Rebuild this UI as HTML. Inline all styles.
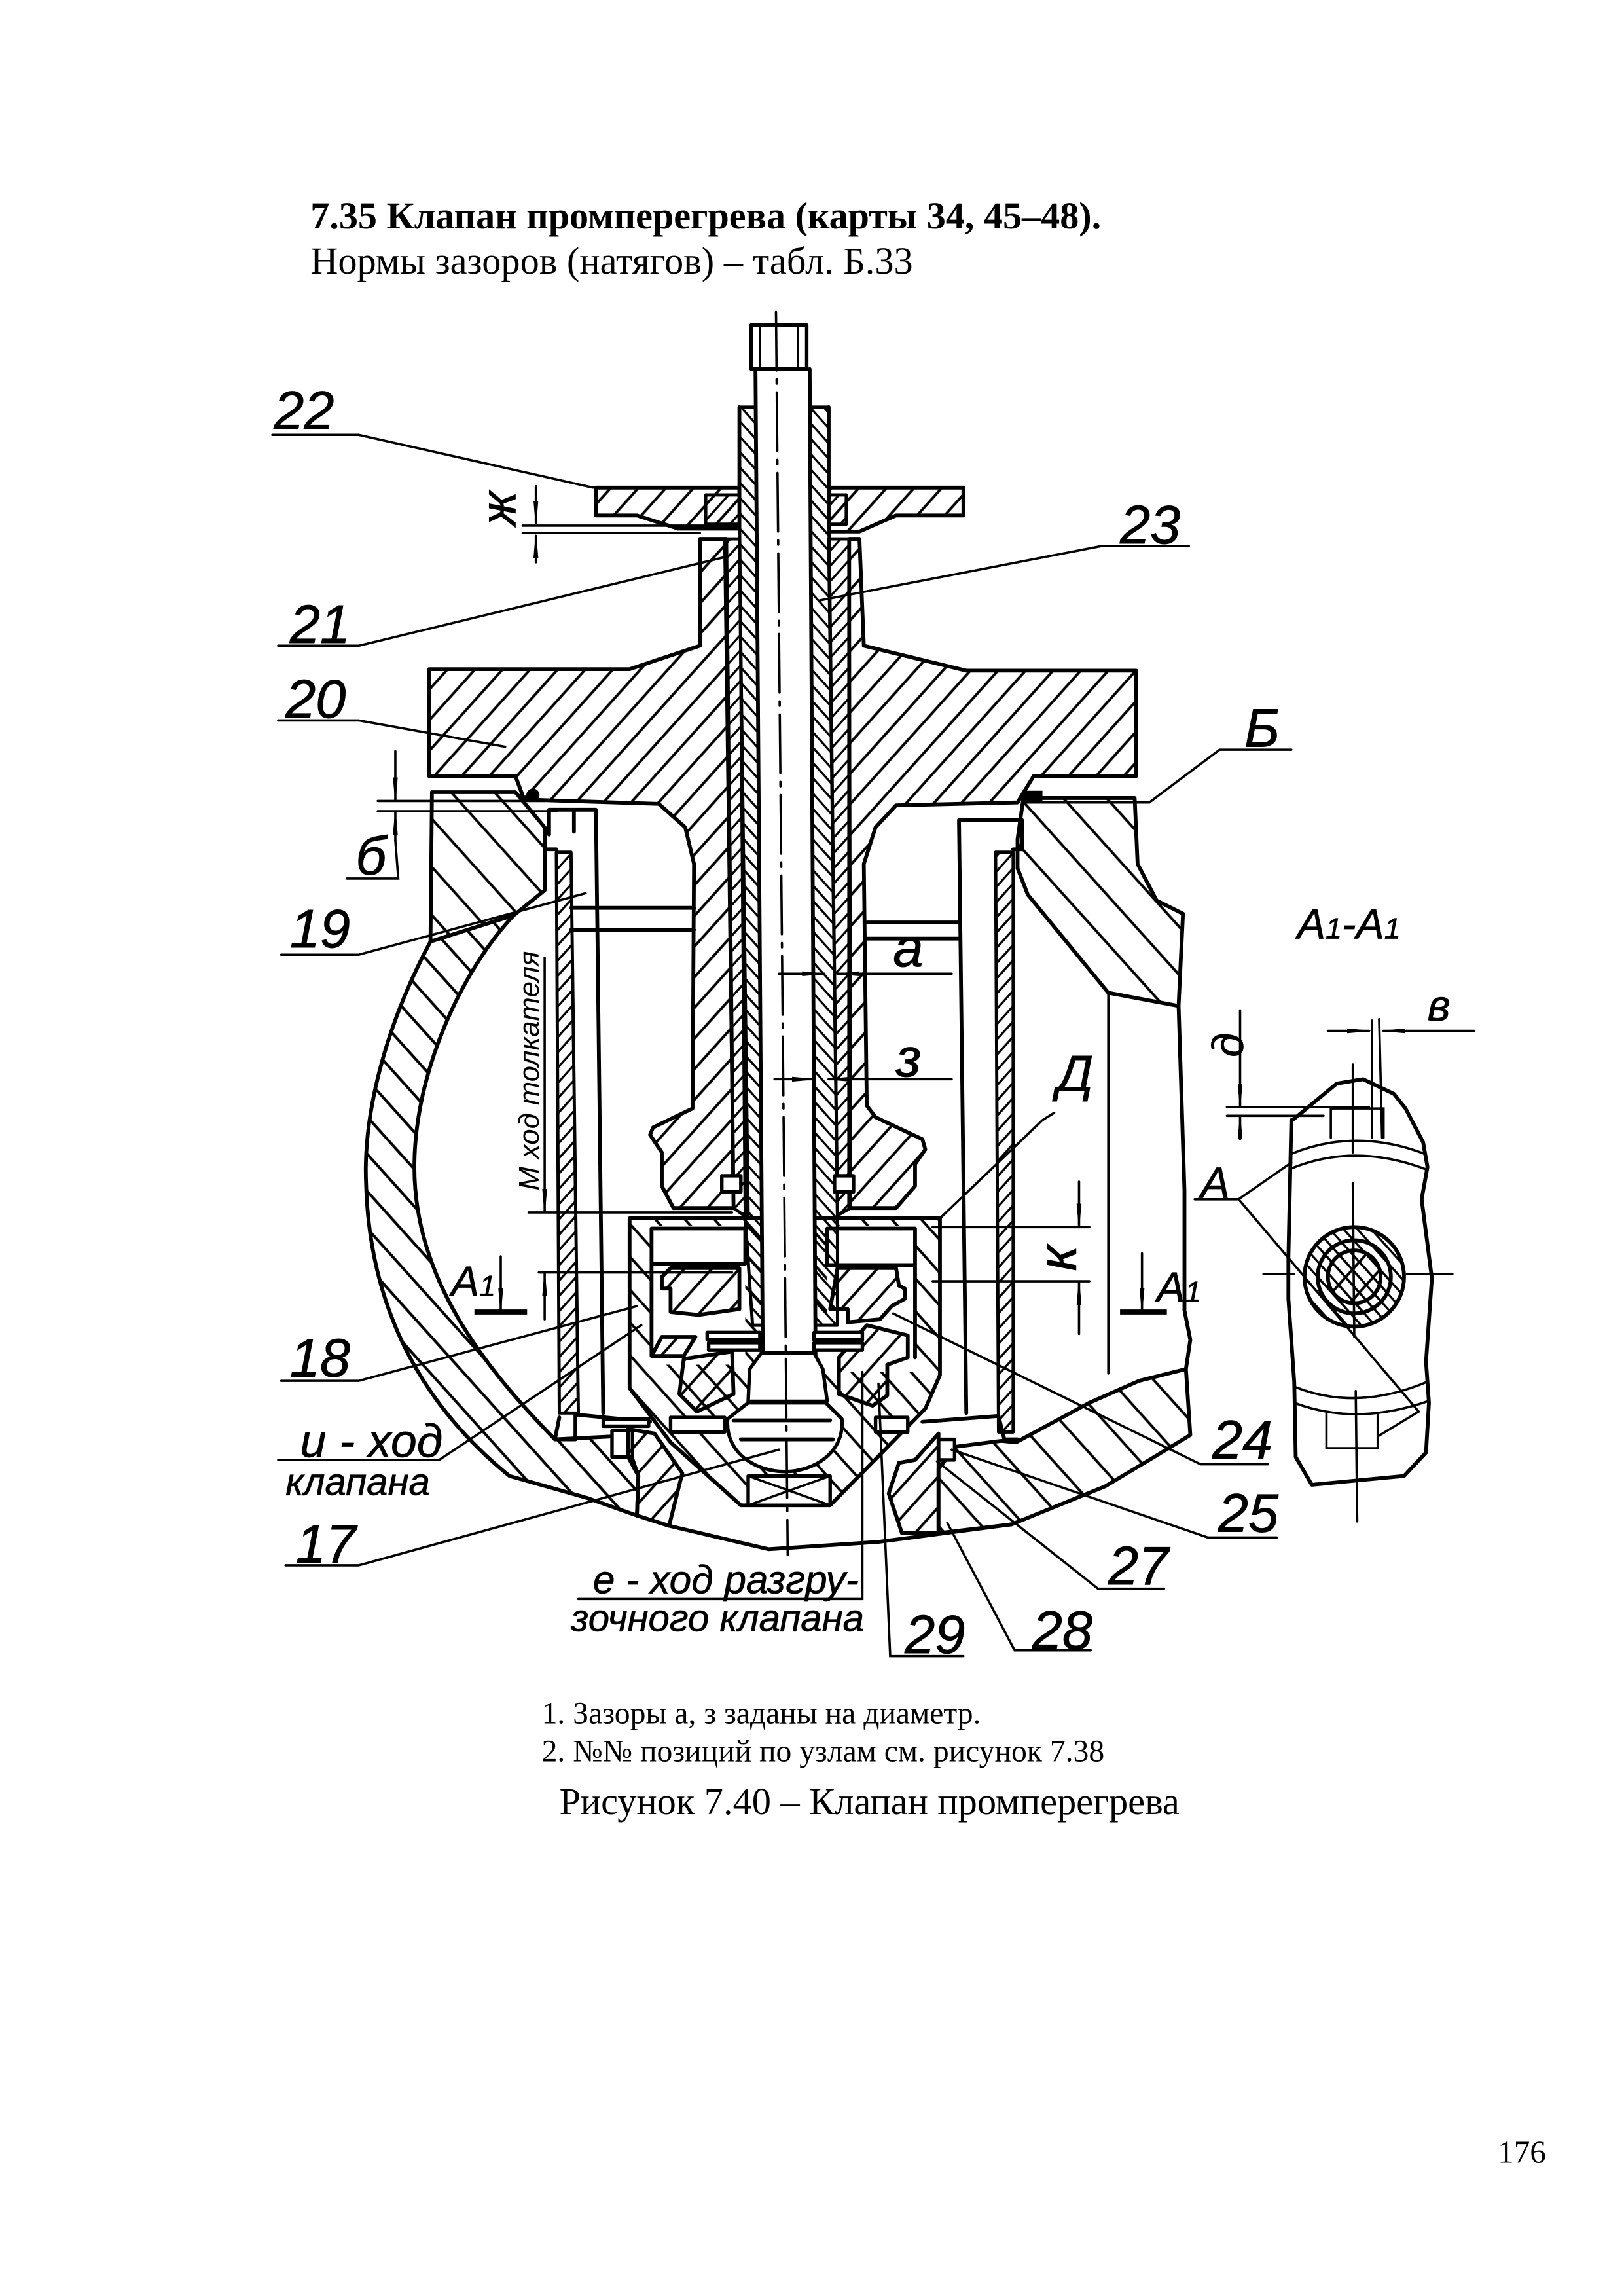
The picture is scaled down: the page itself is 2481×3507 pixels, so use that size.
<!DOCTYPE html>
<html><head><meta charset="utf-8"><style>
html,body{margin:0;padding:0;background:#fff}
svg{display:block}
text{font-family:"Liberation Sans",sans-serif;font-style:italic;fill:#000}
.s{font-family:"Liberation Serif",serif;font-style:normal}
.n{font-size:37px;stroke:#000;stroke-width:.4}
.l{stroke:#000;stroke-width:.3}
.h{fill:none;stroke:#000;stroke-width:2.6;stroke-linejoin:round;stroke-linecap:round}
.m{fill:none;stroke:#000;stroke-width:1.6;stroke-linecap:round}
.w{fill:#fff;stroke:#000;stroke-width:2.4;stroke-linejoin:round}
.a{fill:url(#a);stroke:#000;stroke-width:2.6;stroke-linejoin:round}
.b{fill:url(#b);stroke:#000;stroke-width:2.6;stroke-linejoin:round}
.c{fill:url(#c);stroke:#000;stroke-width:2.6;stroke-linejoin:round}
.d{fill:url(#d);stroke:#000;stroke-width:2.6;stroke-linejoin:round}
.f{fill:url(#f);stroke:#000;stroke-width:2.2;stroke-linejoin:round}
.g{fill:url(#g);stroke:#000;stroke-width:2.2;stroke-linejoin:round}
</style></head><body>
<svg xmlns="http://www.w3.org/2000/svg" width="2481" height="3507" viewBox="0 0 1109.2 1568">
<defs>
<pattern id="a" width="14" height="14" patternUnits="userSpaceOnUse" patternTransform="rotate(42)"><line x1="1" y1="0" x2="1" y2="14" stroke="#000" stroke-width="1.8"/></pattern>
<pattern id="b" width="15" height="15" patternUnits="userSpaceOnUse" patternTransform="rotate(-42)"><line x1="1" y1="0" x2="1" y2="15" stroke="#000" stroke-width="1.8"/></pattern>
<pattern id="d" width="17" height="17" patternUnits="userSpaceOnUse" patternTransform="rotate(-42)"><line x1="1" y1="0" x2="1" y2="17" stroke="#000" stroke-width="1.9"/></pattern>
<pattern id="c" width="22" height="22" patternUnits="userSpaceOnUse" patternTransform="rotate(-42)"><line x1="1" y1="0" x2="1" y2="22" stroke="#000" stroke-width="1.8"/></pattern>
<pattern id="f" width="7" height="7" patternUnits="userSpaceOnUse" patternTransform="rotate(42)"><line x1="1" y1="0" x2="1" y2="7" stroke="#000" stroke-width="1.5"/></pattern>
<pattern id="g" width="7" height="7" patternUnits="userSpaceOnUse" patternTransform="rotate(-42)"><line x1="1" y1="0" x2="1" y2="7" stroke="#000" stroke-width="1.5"/></pattern>
<marker id="ar" markerWidth="16" markerHeight="6" refX="15" refY="3" orient="auto" markerUnits="userSpaceOnUse"><path d="M0,1.6L16,3L0,4.4Z" fill="#000" stroke="#000" stroke-width=".5"/></marker>
</defs>

<!-- page text -->
<text class="s" x="212" y="156" font-size="26" font-weight="bold">7.35 Клапан промперегрева (карты 34, 45–48).</text>
<text class="s" x="212" y="187" font-size="26.1">Нормы зазоров (натягов) – табл. Б.33</text>
<text class="s" x="370" y="1177" font-size="21.3">1. Зазоры а, з заданы на диаметр.</text>
<text class="s" x="370" y="1203" font-size="21.3">2. №№ позиций по узлам см. рисунок 7.38</text>
<text class="s" x="382" y="1239" font-size="26.1">Рисунок 7.40 – Клапан промперегрева</text>
<text class="s" x="1023" y="1477" font-size="22">176</text>

<!-- casing -->
<g transform="translate(0,3)">
<path class="c" d="M295,538H352L372,562V605L351,622L294,640Z"/>
<path class="d" d="M294,640C262,700 248,760 250,805C252,880 280,950 348,1005L401,1020L435,1032L436,1005L429,985L418,978L379,980C330,930 283,870 283,794C283,730 315,660 351,622Z"/>
<path class="c" d="M699,542H775L777,587L790,612L808,621L805,684L757,675L702,608L695,590V570Z"/>
<path class="c" d="M641,1000L653,985L684,981L694,982L744,955L778,940L810,932L813,977L790,991L755,1012L691,1038L641,1044Z"/>
<path class="h" d="M805,684L809,810V855L809,892L813,912L810,932"/>
<path class="m" d="M757,675V935"/>
<path class="h" d="M435,1032L457,1039L525,1055L600,1050L691,1038"/>
</g>

<!-- cover -->
<path class="a" d="M293,457H430L478,441L478,368H496L501,825H460L452,810V787L444,775L446,770L473,757L474,590L468,565L450,549L358,546L352,530H293Z"/>
<path class="a" d="M776,458H660L590,441L587,368H580V825H612L625,810V795L632,785L630,778L598,763L592,755L590,590L598,565L612,550L695,548L706,530H776Z"/>
<!-- flange -->
<path class="a" d="M407,333H505V361H463L435,352H407Z"/>
<path class="a" d="M566,333H658V352H612L587,363H566Z"/>
<path class="f" d="M482,338H505V358H482Z"/>
<path class="f" d="M566,338H578V358H566Z"/>
<!-- ribs -->
<path class="h" d="M390,620H474M390,635H474M592,630H655M592,641H655"/>

<!-- pusher cylinders -->
<path class="f" d="M380,582H390L395,965H382Z"/>
<path class="f" d="M680,582H692L692,978H682Z"/>
<path class="h" d="M372,565V580H380M375,570V553H407L412,965M392,568V553"/>
<path class="h" d="M692,580H698V560H655L660,965"/>
<g transform="translate(0,3)">
<path class="h" d="M382,965L379,980H393V963L444,968M630,968L682,964L686,980H695"/>
<path class="w" d="M412,966H443V971H412Z"/>
<path class="w" d="M418,974H432V992H418Z"/>
<path class="w" d="M641,980H652V994H641Z"/>
</g>

<!-- cup -->
<g transform="translate(1,2)">
<path class="b" d="M429,830H641V937L631,960L566,1026H505L457,983L429,946Z"/>
<path d="M444,835H508V930H444Z" fill="#fff"/>
<path d="M564,835H624V935H564Z" fill="#fff"/>
<path class="h" d="M444,837H508V861H444ZM444,861V924M564,837H624V862H564ZM624,862V925"/>
<path class="a" d="M457,864H504V892L476,896L457,894V878H451V870Z"/>
<path class="a" d="M571,864H611L613,876L617,878V885L608,890L600,899L578,901V892L566,892Z"/>
<path class="a" d="M451,911H474L466,924H444Z"/>
<path class="a" d="M466,926L499,921L500,950L475,962L463,950Z"/>
<path class="a" d="M591,903L619,910V925L605,930V951L595,958L572,950L572,925Z"/>
</g>

<!-- stem sleeves -->
<path class="f" d="M495,368H505L511,832L501,825Z"/>
<path class="f" d="M566,368H580L581,825L572,830Z"/>
<path class="g" d="M505,278H516L521,905H514L509,832L505,340Z"/>
<path class="g" d="M553,278H566V340L572,830V905H557Z"/>
<!-- stem -->
<path d="M516,252L521,925H557L553,252Z" fill="#fff"/>
<path class="h" d="M516,252L521,925M553,252L557,925"/>
<rect x="513" y="222" width="38" height="30" class="w"/>
<path class="m" d="M519,222V252M545,222V252"/>
<path class="h" d="M505,278V340M566,278V340"/>

<g transform="translate(1,2)">
<path class="w" d="M482,908H518V913H482Z"/><path class="w" d="M483,915H518V920H483Z"/>
<path class="w" d="M555,908H588V913H555Z"/><path class="w" d="M555,915H588V920H555Z"/>
<path class="w" d="M519,922H555L561,933L564,955H510L511,933Z"/>
<path class="w" d="M496,967L510,956H563L574,967C576,990 555,1003 535,1003C515,1003 494,990 496,967Z"/>
<path class="h" d="M500,968H566M505,981H568"/>
<path class="w" d="M457,966H494V976H457Z"/>
<path class="w" d="M597,966H619V976H597Z"/>
<path class="w" d="M510,1006H566V1026H510Z"/>
<path class="m" d="M510,1006L566,1026M566,1006L510,1026"/>
</g>
<!-- seat crescents -->
<g transform="translate(0,3)">
<path class="a" d="M429,973L447,976L466,1003L457,1039L435,1032L436,1005L429,992Z"/>
<path class="a" d="M625,994L641,976V1044H616L607,1017L614,996Z"/>
</g>

<!-- gaskets -->
<circle cx="364" cy="543" r="4.5" fill="#000"/>
<rect x="698" y="540" width="14" height="7" fill="#000"/>
<rect x="493" y="803" width="13" height="11" class="w"/>
<rect x="570" y="803" width="13" height="11" class="w"/>

<!-- center line -->
<path class="m" d="M530,213L538,1062" stroke-dasharray="40 6 3 6"/>

<!-- leaders -->
<path class="m" d="M186,297H245L405,333"/>
<path class="m" d="M752,373H812M752,373L560,410"/>
<path class="m" d="M190,441H245L497,380"/>
<path class="m" d="M190,492H245L345,510"/>
<path class="m" d="M882,512H833L785,548H700"/>
<path class="m" d="M237,600H272L270,574M258,547H372M258,554H380"/>
<path class="m" d="M192,652H245L400,610"/>
<path class="m" d="M192,943H245L435,892"/>
<path class="m" d="M190,997H300L438,905"/>
<path class="m" d="M195,1069H245L532,990"/>
<path class="m" d="M866,1000H820L610,897"/>
<path class="m" d="M872,1050H825L650,990"/>
<path class="m" d="M795,1085H750L640,998"/>
<path class="m" d="M745,1127H693L647,1040"/>
<path class="m" d="M658,1131H608L600,945"/>
<path class="m" d="M395,1092H589V937"/>
<path class="m" d="M712,765L641,833M712,765L720,760"/>
<!-- dimensions -->
<path class="m" d="M357,359H505M357,364H478"/>
<path class="m" d="M366,332V357" marker-end="url(#ar)"/>
<path class="m" d="M366,384V366" marker-end="url(#ar)"/>
<path class="m" d="M270,513V546" marker-end="url(#ar)"/>
<path class="m" d="M270,574V555" marker-end="url(#ar)"/>
<path class="m" d="M532,665H563" marker-end="url(#ar)"/>
<path class="m" d="M650,665H572" marker-end="url(#ar)"/>
<path class="m" d="M529,737H556" marker-end="url(#ar)"/>
<path class="m" d="M650,737H566" marker-end="url(#ar)"/>
<path class="m" d="M361,828H500M368,869H500M637,838H744M637,875H744"/>
<path class="m" d="M737,807V837" marker-end="url(#ar)"/>
<path class="m" d="M737,911V876" marker-end="url(#ar)"/>
<path class="m" d="M372,654V827" marker-end="url(#ar)"/>
<path class="m" d="M372,901V870" marker-end="url(#ar)"/>
<path d="M324,896H360M765,896H797" stroke="#000" stroke-width="3.5"/>
<path class="m" d="M342,858V895" marker-end="url(#ar)"/>
<path class="m" d="M780,856V895" marker-end="url(#ar)"/>

<!-- section detail -->
<g transform="translate(4,4)">
<path class="h" d="M878,761L876,855L876,883L880,940L881,991L892,1010L955,1004L970,988L972,954L970,926L974,869L967,815L971,793L968,776L956,753L948,743L927,733L909,736L880,760Z"/>
<path class="m" d="M878,784Q922,766 969,784M878,794Q922,776 971,795M880,943Q922,960 970,940M880,954Q922,970 971,953"/>
<path class="m" d="M905,773V753H941V773M933,693V773M938,692L940,773M902,961V985H937V961M937,977L965,960"/>
<circle cx="921" cy="868" r="34" fill="url(#g)" stroke="#000" stroke-width="2.6"/>
<circle cx="921" cy="868" r="25" fill="url(#g)" stroke="#000" stroke-width="2.6"/>
<circle cx="921" cy="868" r="18" fill="url(#a)" stroke="#000" stroke-width="2.6"/>
<path class="m" d="M920,723V783M920,804L921,909M922,946L923,1035M859,866H880M957,866H988"/>
<path class="m" d="M812,815H842L878,790M842,815L965,960"/>
<path class="m" d="M903,700H931" marker-end="url(#ar)"/>
<path class="m" d="M1003,700H941" marker-end="url(#ar)"/>
<path class="m" d="M834,752H931M834,758H900"/>
<path class="m" d="M843,686V751" marker-end="url(#ar)"/>
<path class="m" d="M843,774V759" marker-end="url(#ar)"/>
</g>

<!-- labels -->
<text class="n" x="187" y="293">22</text>
<text class="n" x="765" y="371">23</text>
<text class="n" x="198" y="439">21</text>
<text class="n" x="195" y="490">20</text>
<text class="n" x="850" y="510">Б</text>
<text class="n" x="243" y="597">б</text>
<text class="n" x="198" y="647">19</text>
<text class="n" x="198" y="940">18</text>
<text class="l" x="205" y="995" font-size="32">и - ход</text>
<text class="l" x="195" y="1021" font-size="26">клапана</text>
<text class="n" x="202" y="1067">17</text>
<text class="n" x="828" y="996">24</text>
<text class="n" x="832" y="1046">25</text>
<text class="n" x="757" y="1082">27</text>
<text class="n" x="705" y="1126">28</text>
<text class="n" x="618" y="1129">29</text>
<text class="l" x="405" y="1088" font-size="27">е - ход разгру-</text>
<text class="l" x="390" y="1114" font-size="26">зочного клапана</text>
<text class="n" x="610" y="660">а</text>
<text class="n" x="612" y="735">з</text>
<text class="n" x="722" y="745" style="font-size:35px">Д</text>
<text class="n" transform="translate(735,868) rotate(-90)">к</text>
<text class="l" transform="translate(352,359) rotate(-90)" font-size="34">ж</text>
<text transform="translate(368,813) rotate(-90)" font-size="19.5">М ход толкателя</text>
<text class="l" x="308" y="885" font-size="29">А<tspan font-size="20">1</tspan></text>
<text class="l" x="790" y="889" font-size="29">А<tspan font-size="20">1</tspan></text>
<text class="l" x="886" y="641" font-size="29">А<tspan font-size="20">1</tspan>-А<tspan font-size="20">1</tspan></text>
<text class="l" x="975" y="697" font-size="30">в</text>
<text class="l" transform="translate(849,722) rotate(-90)" font-size="30">д</text>
<text class="l" x="820" y="818" font-size="30">А</text>
</svg>
</body></html>
